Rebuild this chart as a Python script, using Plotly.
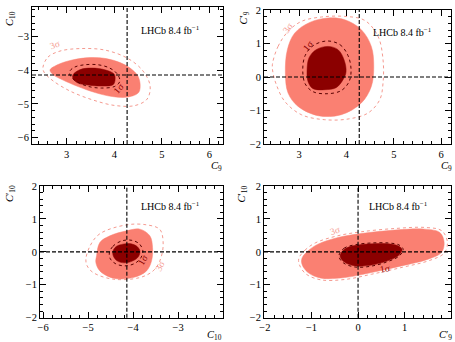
import plotly.graph_objects as go

# ---------------- data ----------------
# Standard-model point (dashed cross-hair)
sm_c9 = 4.27
sm_c10 = -4.14
sm_c9p = 0.0
sm_c10p = 0.0

# Panel 1: C9 (x) vs C10 (y)
p1_3s_fill_x = [2.648, 2.817, 3.112, 3.491, 3.827, 4.122, 4.333, 4.491, 4.543, 4.512, 4.291, 3.954, 3.596, 3.238, 2.922, 2.712]
p1_3s_fill_y = [-3.994, -3.831, -3.697, -3.623, -3.653, -3.772, -3.935, -4.157, -4.409, -4.662, -4.795, -4.780, -4.662, -4.484, -4.291, -4.128]
p1_3s_line_x = [2.501, 2.606, 2.859, 3.280, 3.806, 4.291, 4.606, 4.754, 4.691, 4.438, 4.017, 3.554, 3.069, 2.691, 2.522]
p1_3s_line_y = [-3.905, -3.608, -3.430, -3.356, -3.401, -3.653, -4.024, -4.469, -4.855, -5.047, -5.047, -4.884, -4.617, -4.291, -4.053]
p1_1s_fill_x = [3.133, 3.274, 3.518, 3.800, 3.996, 4.017, 3.975, 3.728, 3.448, 3.238, 3.133]
p1_1s_fill_y = [-4.134, -3.985, -3.935, -3.985, -4.113, -4.282, -4.430, -4.470, -4.440, -4.380, -4.252]
p1_1s_line_x = [3.063, 3.168, 3.379, 3.659, 3.905, 4.065, 4.116, 4.011, 3.728, 3.448, 3.202, 3.084]
p1_1s_line_y = [-4.033, -3.905, -3.837, -3.837, -3.935, -4.113, -4.329, -4.478, -4.528, -4.478, -4.329, -4.181]

# Panel 2: C9 (x) vs C9' (y)
p2_3s_fill_x = [3.612, 3.964, 4.314, 4.525, 4.576, 4.525, 4.314, 3.892, 3.401, 2.979, 2.768, 2.711, 2.753, 2.909, 3.226]
p2_3s_fill_y = [1.761, 1.710, 1.412, 0.913, 0.316, -0.281, -0.776, -1.125, -1.155, -0.878, -0.478, 0.119, 0.815, 1.313, 1.630]
p2_3s_line_x = [2.437, 2.557, 2.768, 3.049, 3.470, 3.964, 4.386, 4.667, 4.772, 4.772, 4.703, 4.456, 4.034, 3.542, 3.049, 2.698, 2.521, 2.451]
p2_3s_line_y = [0.367, 0.913, 1.361, 1.660, 1.791, 1.809, 1.690, 1.212, 0.516, -0.179, -0.678, -1.075, -1.254, -1.275, -1.125, -0.728, -0.230, 0.119]
p2_1s_fill_x = [3.612, 3.823, 3.949, 3.992, 3.928, 3.781, 3.549, 3.295, 3.190, 3.169, 3.211, 3.359]
p2_1s_fill_y = [0.913, 0.815, 0.516, 0.158, -0.081, -0.319, -0.379, -0.349, -0.140, 0.218, 0.576, 0.815]
p2_1s_line_x = [3.591, 3.865, 4.034, 4.097, 4.055, 3.886, 3.591, 3.295, 3.127, 3.078, 3.127, 3.295]
p2_1s_line_y = [1.075, 0.964, 0.636, 0.218, -0.140, -0.409, -0.499, -0.439, -0.200, 0.218, 0.636, 0.934]

# Panel 3: C10 (x) vs C10' (y)
p3_3s_fill_x = [-4.813, -4.740, -4.518, -4.147, -3.851, -3.629, -3.569, -3.591, -3.702, -4.000, -4.444, -4.740, -4.829]
p3_3s_fill_y = [-0.122, 0.283, 0.486, 0.638, 0.690, 0.486, 0.131, -0.274, -0.578, -0.781, -0.799, -0.578, -0.325]
p3_3s_line_x = [-5.051, -4.950, -4.740, -4.147, -3.702, -3.407, -3.333, -3.407, -3.556, -3.851, -4.444, -4.889, -5.022]
p3_3s_line_y = [-0.222, 0.200, 0.550, 0.820, 0.820, 0.680, 0.234, -0.274, -0.578, -0.781, -0.830, -0.629, -0.426]
p3_1s_fill_x = [-4.451, -4.378, -4.229, -4.044, -3.911, -3.851, -3.880, -4.007, -4.191, -4.356, -4.436]
p3_1s_fill_y = [0.009, 0.161, 0.234, 0.243, 0.161, 0.030, -0.143, -0.274, -0.334, -0.274, -0.143]
p3_1s_line_x = [-4.529, -4.451, -4.251, -4.029, -3.862, -3.784, -3.829, -3.962, -4.184, -4.384, -4.507]
p3_1s_line_y = [-0.030, 0.167, 0.334, 0.350, 0.243, 0.030, -0.182, -0.350, -0.426, -0.365, -0.213]

# Panel 4: C9' (x) vs C10' (y)
p4_3s_fill_x = [-1.204, -1.075, -0.860, -0.430, 0.071, 0.789, 1.434, 1.757, 1.849, 1.791, 1.505, 0.931, 0.286, -0.286, -0.789, -1.075, -1.204]
p4_3s_fill_y = [-0.191, 0.030, 0.234, 0.435, 0.556, 0.660, 0.690, 0.587, 0.283, -0.021, -0.222, -0.426, -0.629, -0.781, -0.799, -0.629, -0.374]
p4_3s_line_x = [-1.27, -1.14, -0.92, -0.46, 0.07, 0.80, 1.45, 1.80, 1.92, 1.85, 1.54, 0.95, 0.29, -0.29, -0.80, -1.12, -1.26]
p4_3s_line_y = [-0.19, 0.05, 0.27, 0.48, 0.61, 0.71, 0.74, 0.64, 0.29, -0.04, -0.26, -0.47, -0.68, -0.84, -0.85, -0.67, -0.39]
p4_1s_fill_x = [-0.387, -0.280, -0.043, 0.301, 0.645, 0.860, 0.946, 0.860, 0.602, 0.258, -0.065, -0.301]
p4_1s_fill_y = [-0.122, 0.091, 0.198, 0.243, 0.243, 0.182, 0.061, -0.122, -0.289, -0.410, -0.426, -0.304]
p4_1s_line_x = [-0.41, -0.30, -0.05, 0.30, 0.65, 0.88, 0.97, 0.88, 0.61, 0.26, -0.07, -0.32]
p4_1s_line_y = [-0.12, 0.11, 0.22, 0.27, 0.27, 0.21, 0.07, -0.13, -0.31, -0.44, -0.46, -0.33]

# contour labels: (text, x, y, angle, level)
p1_labels = [("3σ", 2.75, -3.25, -20, "3"), ("1σ", 4.09, -4.56, -50, "1")]
p2_labels = [("3σ", 2.77, 1.46, -55, "3"), ("1σ", 3.19, 0.93, -50, "1")]
p3_labels = [("3σ", -3.40, -0.43, -65, "3"), ("1σ", -3.78, -0.25, -60, "1")]
p4_labels = [("3σ", -0.50, 0.64, -18, "3"), ("1σ", 0.57, -0.53, -10, "1")]

lumi_text = "LHCb 8.4 fb<sup>−1</sup>"

# ---------------- style ----------------
FONT = "Liberation Serif"
SALMON = "#FA8072"
DARK = "#8B0000"
DOT3 = "#F59A90"
DOT1 = "#5A0000"
W, H = 455, 342

fig = go.Figure()


def closed(xs, ys):
    return list(xs) + [xs[0]], list(ys) + [ys[0]]


def add_panel(k, f3x, f3y, l3x, l3y, f1x, f1y, l1x, l1y):
    xa = "x" if k == 1 else f"x{k}"
    ya = "y" if k == 1 else f"y{k}"
    for xs, ys, color in [(f3x, f3y, SALMON), (f1x, f1y, DARK)]:
        cx, cy = closed(xs, ys)
        fig.add_trace(go.Scatter(x=cx, y=cy, xaxis=xa, yaxis=ya, mode="lines",
                                 fill="toself", fillcolor=color,
                                 line=dict(color=color, width=0.5, shape="spline", smoothing=1),
                                 hoverinfo="skip", showlegend=False))
    for xs, ys, color in [(l3x, l3y, DOT3), (l1x, l1y, DOT1)]:
        cx, cy = closed(xs, ys)
        fig.add_trace(go.Scatter(x=cx, y=cy, xaxis=xa, yaxis=ya, mode="lines",
                                 line=dict(color=color, width=1, dash="dot", shape="spline", smoothing=1),
                                 hoverinfo="skip", showlegend=False))


add_panel(1, p1_3s_fill_x, p1_3s_fill_y, p1_3s_line_x, p1_3s_line_y,
          p1_1s_fill_x, p1_1s_fill_y, p1_1s_line_x, p1_1s_line_y)
add_panel(2, p2_3s_fill_x, p2_3s_fill_y, p2_3s_line_x, p2_3s_line_y,
          p2_1s_fill_x, p2_1s_fill_y, p2_1s_line_x, p2_1s_line_y)
add_panel(3, p3_3s_fill_x, p3_3s_fill_y, p3_3s_line_x, p3_3s_line_y,
          p3_1s_fill_x, p3_1s_fill_y, p3_1s_line_x, p3_1s_line_y)
add_panel(4, p4_3s_fill_x, p4_3s_fill_y, p4_3s_line_x, p4_3s_line_y,
          p4_1s_fill_x, p4_1s_fill_y, p4_1s_line_x, p4_1s_line_y)


def px_x(p):
    return p / W


def px_y(p):
    return 1 - p / H


def axis(domain, rng, anchor):
    return dict(domain=domain, range=rng, anchor=anchor, showline=True, linecolor="black",
                linewidth=1, mirror="ticks", ticks="inside", ticklen=6, tickwidth=1,
                tickcolor="black", dtick=1, tick0=0, showgrid=False, zeroline=False,
                automargin=False,
                minor=dict(dtick=0.2, ticks="inside", ticklen=3, tickwidth=1, tickcolor="black"),
                tickfont=dict(family=FONT, size=10.5, color="black"))


fig.update_layout(
    xaxis=axis([px_x(32), px_x(222.7)], [2.27, 6.28], "y"),
    yaxis=axis([px_y(144), px_y(7.3)], [-6.19, -2.13], "x"),
    xaxis2=axis([px_x(264), px_x(450.7)], [2.26, 6.2], "y2"),
    yaxis2=axis([px_y(144), px_y(10)], [-2, 2], "x2"),
    xaxis3=axis([px_x(40), px_x(222.7)], [-6.07, -2.01], "y3"),
    yaxis3=axis([px_y(317.7), px_y(186)], [-2, 2], "x3"),
    xaxis4=axis([px_x(264), px_x(450.7)], [-2.02, 1.99], "y4"),
    yaxis4=axis([px_y(317.7), px_y(186)], [-2, 2], "x4"),
)

# dashed SM cross-hairs
shapes = []
dash = dict(color="black", width=1.1, dash="4px,2px")
for k, xv, yv in [(1, sm_c9, sm_c10), (2, sm_c9, sm_c9p), (3, sm_c10, sm_c10p), (4, sm_c9p, sm_c10p)]:
    xa = "x" if k == 1 else f"x{k}"
    ya = "y" if k == 1 else f"y{k}"
    shapes.append(dict(type="line", xref=xa, yref=f"{ya} domain", x0=xv, x1=xv, y0=0, y1=1, line=dash, layer="above"))
    shapes.append(dict(type="line", xref=f"{xa} domain", yref=ya, x0=0, x1=1, y0=yv, y1=yv, line=dash, layer="above"))

annotations = []
# contour labels
for k, labels in [(1, p1_labels), (2, p2_labels), (3, p3_labels), (4, p4_labels)]:
    xa = "x" if k == 1 else f"x{k}"
    ya = "y" if k == 1 else f"y{k}"
    for txt, xv, yv, ang, lvl in labels:
        annotations.append(dict(text=txt, x=xv, y=yv, xref=xa, yref=ya, showarrow=False,
                                textangle=ang, font=dict(family=FONT, size=9.5,
                                                         color=DOT3 if lvl == "3" else DARK)))

# LHCb labels
for xp, yp in [(139, 30), (371, 32), (139, 206), (367, 206)]:
    annotations.append(dict(text=lumi_text, x=px_x(xp), y=px_y(yp), xref="paper", yref="paper",
                            xanchor="left", yanchor="middle", showarrow=False,
                            font=dict(family=FONT, size=10, color="black")))

# axis titles
x_titles = [("<i>C</i><sub>9</sub>", 224, 166.5), ("<i>C</i><sub>9</sub>", 454, 166.5),
            ("<i>C</i><sub>10</sub>", 224, 335), ("<i>C</i>′<sub>9</sub>", 454, 335)]
for txt, xp, yp in x_titles:
    annotations.append(dict(text=txt, x=px_x(xp), y=px_y(yp), xref="paper", yref="paper",
                            xanchor="right", yanchor="middle", showarrow=False,
                            font=dict(family=FONT, size=10.5, color="black")))
y_titles = [("<i>C</i><sub>10</sub>", 10, 19), ("<i>C</i>′<sub>9</sub>", 244.5, 18),
            ("<i>C</i>′<sub>10</sub>", 10, 194), ("<i>C</i>′<sub>10</sub>", 241.5, 194)]
for txt, xp, yp in y_titles:
    annotations.append(dict(text=txt, x=px_x(xp), y=px_y(yp), xref="paper", yref="paper",
                            xanchor="center", yanchor="middle", showarrow=False, textangle=-90,
                            font=dict(family=FONT, size=10.5, color="black")))

fig.update_layout(width=W, height=H, autosize=False, margin=dict(l=0, r=0, t=0, b=0, pad=0),
                  paper_bgcolor="white", plot_bgcolor="white", showlegend=False,
                  shapes=shapes, annotations=annotations)

fig.write_html("out.html", config={"displayModeBar": False},
               post_script="document.body.style.margin='0';")
